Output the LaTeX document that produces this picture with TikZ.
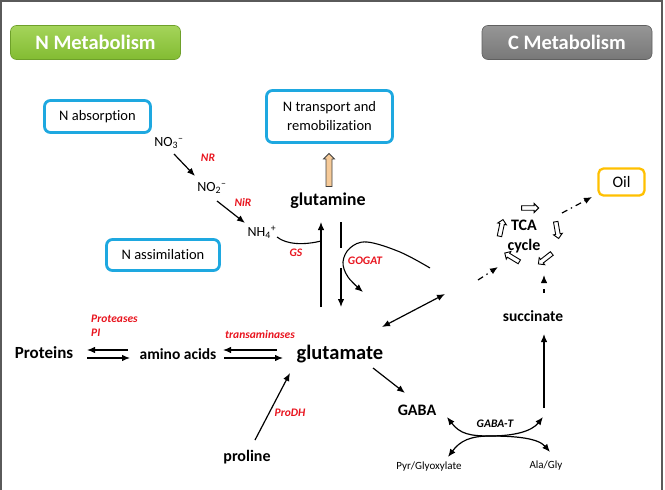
\documentclass[tikz,border=0pt]{standalone}
\usepackage{fontspec}
\setmainfont{Carlito}[Ligatures=NoCommon]
\usetikzlibrary{arrows.meta,shapes.arrows}
\definecolor{nblue}{RGB}{30,168,224}
\definecolor{ngreenT}{RGB}{165,212,90}
\definecolor{ngreenB}{RGB}{130,188,50}
\definecolor{cgreyT}{RGB}{150,150,150}
\definecolor{cgreyB}{RGB}{120,120,120}
\definecolor{nred}{RGB}{232,20,30}
\definecolor{oily}{RGB}{255,192,0}
\definecolor{tanfill}{RGB}{246,202,152}
\definecolor{framegrey}{RGB}{90,90,90}
\tikzset{
 hdr/.style={rounded corners=6pt, minimum width=170pt, minimum height=34pt, inner sep=0pt, text=white, font=\fontsize{20.5}{24}\selectfont\bfseries},
 bluebox/.style={draw=nblue, line width=2.8pt, rounded corners=6pt, fill=white, inner sep=0pt, font=\fontsize{14.5}{19}\selectfont, align=center},
 enz/.style={text=nred, font=\fontsize{11.5}{14}\selectfont\bfseries\itshape, inner sep=0pt},
 met/.style={font=\fontsize{16}{20}\selectfont\bfseries, inner sep=0pt},
 ion/.style={font=\fontsize{14}{16}\selectfont, inner sep=0pt},
 small/.style={font=\fontsize{11}{13}\selectfont, inner sep=0pt},
 arr/.style={-{Latex[length=8pt,width=6.5pt]}, line width=1.2pt},
 darr/.style={{Latex[length=8pt,width=6.5pt]}-{Latex[length=8pt,width=6.5pt]}, line width=1.2pt},
 dd/.style={arr, dash pattern=on 6pt off 4pt on 1.5pt off 4pt},
 hollow/.style={single arrow, draw, line width=0.9pt, fill=white, minimum height=17pt, single arrow head extend=2.2pt, inner sep=1.8pt},
}
\begin{document}
\begin{tikzpicture}[x=1pt,y=-1pt]
\useasboundingbox (0,0) rectangle (665,490);
\draw[framegrey, line width=1.5pt] (0.75,490) -- (0.75,0.75) -- (662,0.75) -- (662,490);

% headers
\node[hdr, top color=ngreenT, bottom color=ngreenB, draw=ngreenB!85!black, line width=0.6pt] (hN) at (95.5,42.5) {N Metabolism};
\node[hdr, top color=cgreyT, bottom color=cgreyB, draw=cgreyB!80!black, line width=0.6pt] (hC) at (567,42.5) {C Metabolism};

% boxes
\node[bluebox, minimum width=106pt, minimum height=32pt] (absb) at (97.5,116.5) {N absorption};
\node[bluebox, minimum width=126pt, minimum height=52pt] (trans) at (329.5,116.5) {N transport and\\remobilization};
\node[bluebox, minimum width=113pt, minimum height=31pt] (assim) at (163,255) {N assimilation};
\node[draw=oily, line width=2.3pt, rounded corners=5pt, fill=white, minimum width=46pt, minimum height=27pt, inner sep=0pt, font=\fontsize{16}{19}\selectfont] (oil) at (621.5,182) {Oil};

% ions
\node[ion] (no3) at (169,143) {NO\textsubscript{3}\textsuperscript{–}};
\node[ion] (no2) at (212,188) {NO\textsubscript{2}\textsuperscript{–}};
\node[ion] (nh4) at (262,232) {NH\textsubscript{4}\textsuperscript{+}};

% metabolites
\node[font=\fontsize{18}{21}\selectfont\bfseries, inner sep=0pt] (gln) at (328,201) {glutamine};
\node[font=\fontsize{20.5}{24}\selectfont\bfseries, inner sep=0pt] (glu) at (340,354) {glutamate};
\node[font=\fontsize{17}{20}\selectfont\bfseries, inner sep=0pt] (prot) at (44,353) {Proteins};
\node[font=\fontsize{15.5}{18}\selectfont\bfseries, inner sep=0pt] (amino) at (178,354) {amino acids};
\node[met] (pro) at (247,457) {proline};
\node[met] (gaba) at (417,410) {GABA};
\node[font=\fontsize{15.5}{18}\selectfont\bfseries, inner sep=0pt] (succ) at (533,316) {succinate};
\node[met, align=center, font=\fontsize{16}{20}\selectfont\bfseries] (tca) at (524,237) {TCA\\cycle};
\node[small] (pyr) at (429,467) {Pyr/Glyoxylate};
\node[small] (ala) at (546,466) {Ala/Gly};

% enzyme labels
\node[enz] (nr) at (208,158) {NR};
\node[enz] (nir) at (243,202) {NiR};
\node[enz] (gs) at (296,253) {GS};
\node[enz] (gogat) at (365,261) {GOGAT};
\node[enz, anchor=west] (prots) at (91,319) {Proteases};
\node[enz, anchor=west] (pi) at (91,333) {PI};
\node[enz] (transam) at (260,335) {transaminases};
\node[enz] (prodh) at (290,413) {ProDH};
\node[font=\fontsize{11.5}{14}\selectfont\bfseries\itshape, inner sep=0pt] (gabat) at (495,424) {GABA-T};

% tan hollow arrow
\node[single arrow, draw=black!75, fill=tanfill, line width=0.8pt, rotate=90, minimum height=33pt, single arrow head extend=2.5pt, inner sep=2.6pt] (tanar) at (329,171.5) {};

% TCA hollow arrows
\node[hollow, rotate=0] (c1) at (529,208) {};
\node[hollow, rotate=-80] (c2) at (557,229) {};
\node[hollow, rotate=218] (c3) at (546,258) {};
\node[hollow, rotate=149] (c4) at (513,258) {};
\node[hollow, rotate=78] (c5) at (501,229) {};

% coordinates for connector ends
\coordinate (a1) at (174,154); \coordinate (a2) at (195,176);
\coordinate (b1) at (217,201); \coordinate (b2) at (245,223);
\coordinate (g1) at (277,237); \coordinate (g2) at (321,241);
\coordinate (u1) at (321,307); \coordinate (u2) at (321,222);
\coordinate (d1) at (341,222); \coordinate (d2) at (341,248);
\coordinate (d3) at (341,268); \coordinate (d4) at (341,307);
\coordinate (e1) at (382,327); \coordinate (e2) at (445,294);
\coordinate (f1) at (478,280); \coordinate (f2) at (498,267);
\coordinate (o1) at (562,213); \coordinate (o2) at (592,197);
\coordinate (s1) at (544,293); \coordinate (s2) at (544,275);
\coordinate (p1) at (128,350); \coordinate (p2) at (87,350);
\coordinate (p3) at (87,358); \coordinate (p4) at (130,358);
\coordinate (t1) at (277,350); \coordinate (t2) at (223,350);
\coordinate (t3) at (224,358); \coordinate (t4) at (283,358);
\coordinate (r1) at (255,440); \coordinate (r2) at (290,373);
\coordinate (h1) at (373,368); \coordinate (h2) at (405,393);
\coordinate (k1) at (544,408); \coordinate (k2) at (544,334);
\coordinate (x1) at (447,417); \coordinate (x2) at (550,452);
\coordinate (y1) at (448,457); \coordinate (y2) at (543,417);
\coordinate (xm) at (490,436);

% connectors
\draw[arr] (a1) -- (a2);
\draw[arr] (b1) -- (b2);
\draw[line width=1.1pt] (g1) .. controls (287,245) and (305,245) .. (g2);
\draw[arr] (u1) -- (u2);
\draw[line width=1.2pt] (d1) -- (d2);
\draw[arr] (d3) -- (d4);
\draw[arr, line width=1.1pt] plot[smooth, tension=0.6] coordinates {(430,268) (400,252) (367,242) (350,248) (343,262) (348,277) (363,292)};
\draw[darr] (e1) -- (e2);
\draw[dd] (f1) -- (f2);
\draw[dd] (o1) -- (o2);
\draw[dd, dash pattern=on 4pt off 6pt] (s1) -- (s2);
\draw[arr] (p1) -- (p2);
\draw[arr] (p3) -- (p4);
\draw[arr] (t1) -- (t2);
\draw[arr] (t3) -- (t4);
\draw[arr] (r1) -- (r2);
\draw[arr] (h1) -- (h2);
\draw[arr] (k1) -- (k2);
\draw[darr] (x1) .. controls (460,434) and (470,436) .. (xm) .. controls (515,436) and (538,438) .. (x2);
\draw[darr] (y1) .. controls (460,441) and (470,436) .. (xm) .. controls (515,436) and (532,431) .. (y2);
\end{tikzpicture}
\end{document}
